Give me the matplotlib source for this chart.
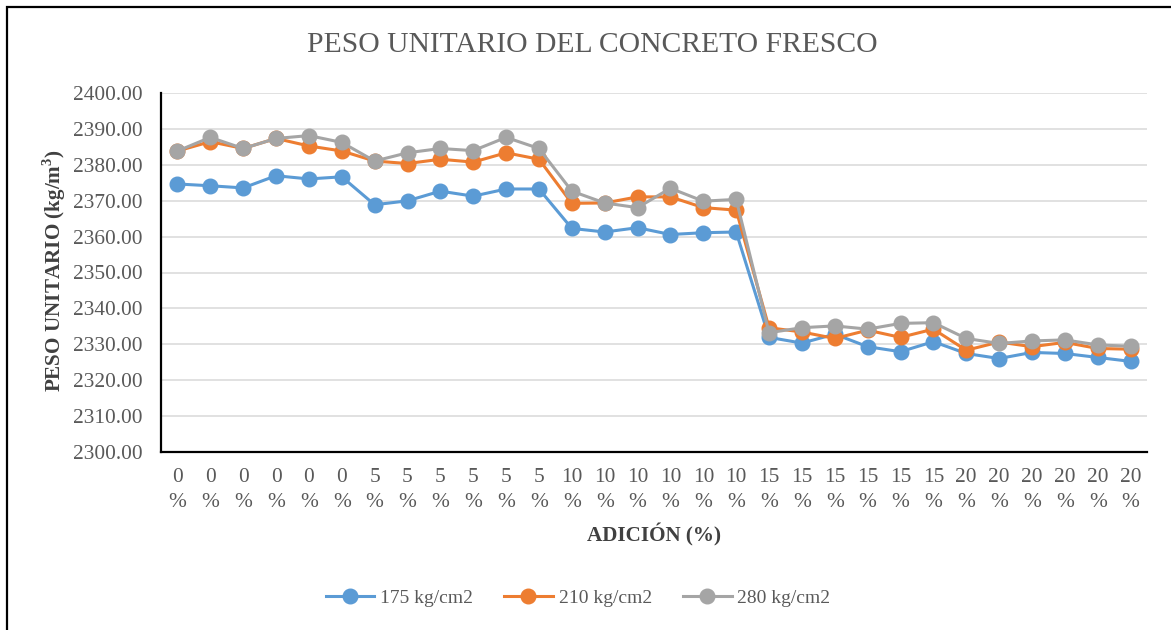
import numpy as np
import matplotlib
matplotlib.use('Agg')
import matplotlib.pyplot as plt
from matplotlib.patches import Rectangle

plt.rcParams['font.family'] = ['Liberation Serif', 'DejaVu Serif']

# Categorias del eje x (adicion en %)
adicion = ['0\n%'] * 6 + ['5\n%'] * 6 + ['10\n%'] * 6 + ['15\n%'] * 6 + ['20\n%'] * 6

# peso unitario (kg/m3) por resistencia
pu_175 = [2374.7, 2374.2, 2373.6, 2377.0, 2376.1, 2376.7,
          2368.9, 2370.0, 2372.7, 2371.3, 2373.3, 2373.3,
          2362.3, 2361.3, 2362.5, 2360.6, 2361.1, 2361.3,
          2331.9, 2330.3, 2332.8, 2329.3, 2327.9, 2330.7,
          2327.4, 2326.0, 2327.7, 2327.4, 2326.3, 2325.2]
pu_210 = [2383.9, 2386.5, 2384.6, 2387.4, 2385.3, 2383.9,
          2381.1, 2380.4, 2381.6, 2380.8, 2383.4, 2381.6,
          2369.3, 2369.4, 2371.1, 2371.1, 2368.1, 2367.4,
          2334.6, 2333.4, 2331.6, 2333.9, 2331.9, 2334.2,
          2328.3, 2330.6, 2329.3, 2330.5, 2328.8, 2328.6]
pu_280 = [2383.9, 2387.7, 2384.6, 2387.4, 2388.2, 2386.3,
          2381.1, 2383.4, 2384.6, 2384.0, 2387.7, 2384.6,
          2372.7, 2369.4, 2368.1, 2373.5, 2369.9, 2370.4,
          2333.2, 2334.6, 2335.1, 2334.2, 2335.8, 2336.0,
          2331.6, 2330.2, 2330.9, 2331.2, 2329.8, 2329.4]

series = [('175 kg/cm2', pu_175, '#5B9BD5'),
          ('210 kg/cm2', pu_210, '#ED7D31'),
          ('280 kg/cm2', pu_280, '#A5A5A5')]

txt = '#595959'

fig = plt.figure(figsize=(11.71, 6.3), dpi=100)
ax = fig.add_axes([161/1171, (630-451.7)/630, 986/1171, 358.4/630])

x = np.arange(len(adicion))
for lab, vals, col in series:
    ax.plot(x, vals, color=col, lw=2.2, marker='o', ms=10.5, label=lab)

ax.set_xlim(-0.5, len(adicion) - 0.5)
ax.set_ylim(2300, 2400)
ax.set_yticks(np.arange(2300, 2401, 10))
ax.set_yticklabels(['%.2f' % v for v in np.arange(2300, 2401, 10)])
ax.set_xticks(x)
ax.set_xticklabels(adicion, linespacing=1.4)

ax.grid(axis='y', color='#D9D9D9', lw=1.1)
ax.set_axisbelow(True)
for s in ['top', 'right']:
    ax.spines[s].set_visible(False)
ax.spines['left'].set_linewidth(1.6)
ax.spines['bottom'].set_linewidth(1.6)
ax.tick_params(axis='y', length=0, pad=13, labelsize=15.4, labelcolor=txt)
ax.tick_params(axis='x', length=0, pad=12, labelsize=15.4, labelcolor=txt)

fig.text(592/1171, 1 - 45/630, 'PESO UNITARIO DEL CONCRETO FRESCO',
         ha='center', va='center', fontsize=21.3, color=txt)
fig.text(54/1171, 1 - 271/630, 'PESO UNITARIO (kg/m$^\\mathregular{3}$)',
         rotation=90, ha='center', va='center', fontsize=15.2,
         fontweight='bold', color='#404040')
fig.text(654/1171, 1 - 535/630, 'ADICIÓN (%)', ha='center', va='center',
         fontsize=15.2, fontweight='bold', color='#404040')

leg = fig.legend(loc='center', bbox_to_anchor=(578/1171, 1 - 598/630), ncol=3,
                 frameon=False, fontsize=14, handlelength=2.5, columnspacing=1.6,
                 handletextpad=0.3, labelcolor=txt)

# marco exterior
fig.patches.append(Rectangle((7/1171, -0.05), 1.1, 1 - 6.5/630 + 0.05,
                             transform=fig.transFigure, fill=False,
                             ec='black', lw=1.6))

plt.savefig('out.png', dpi=100)
